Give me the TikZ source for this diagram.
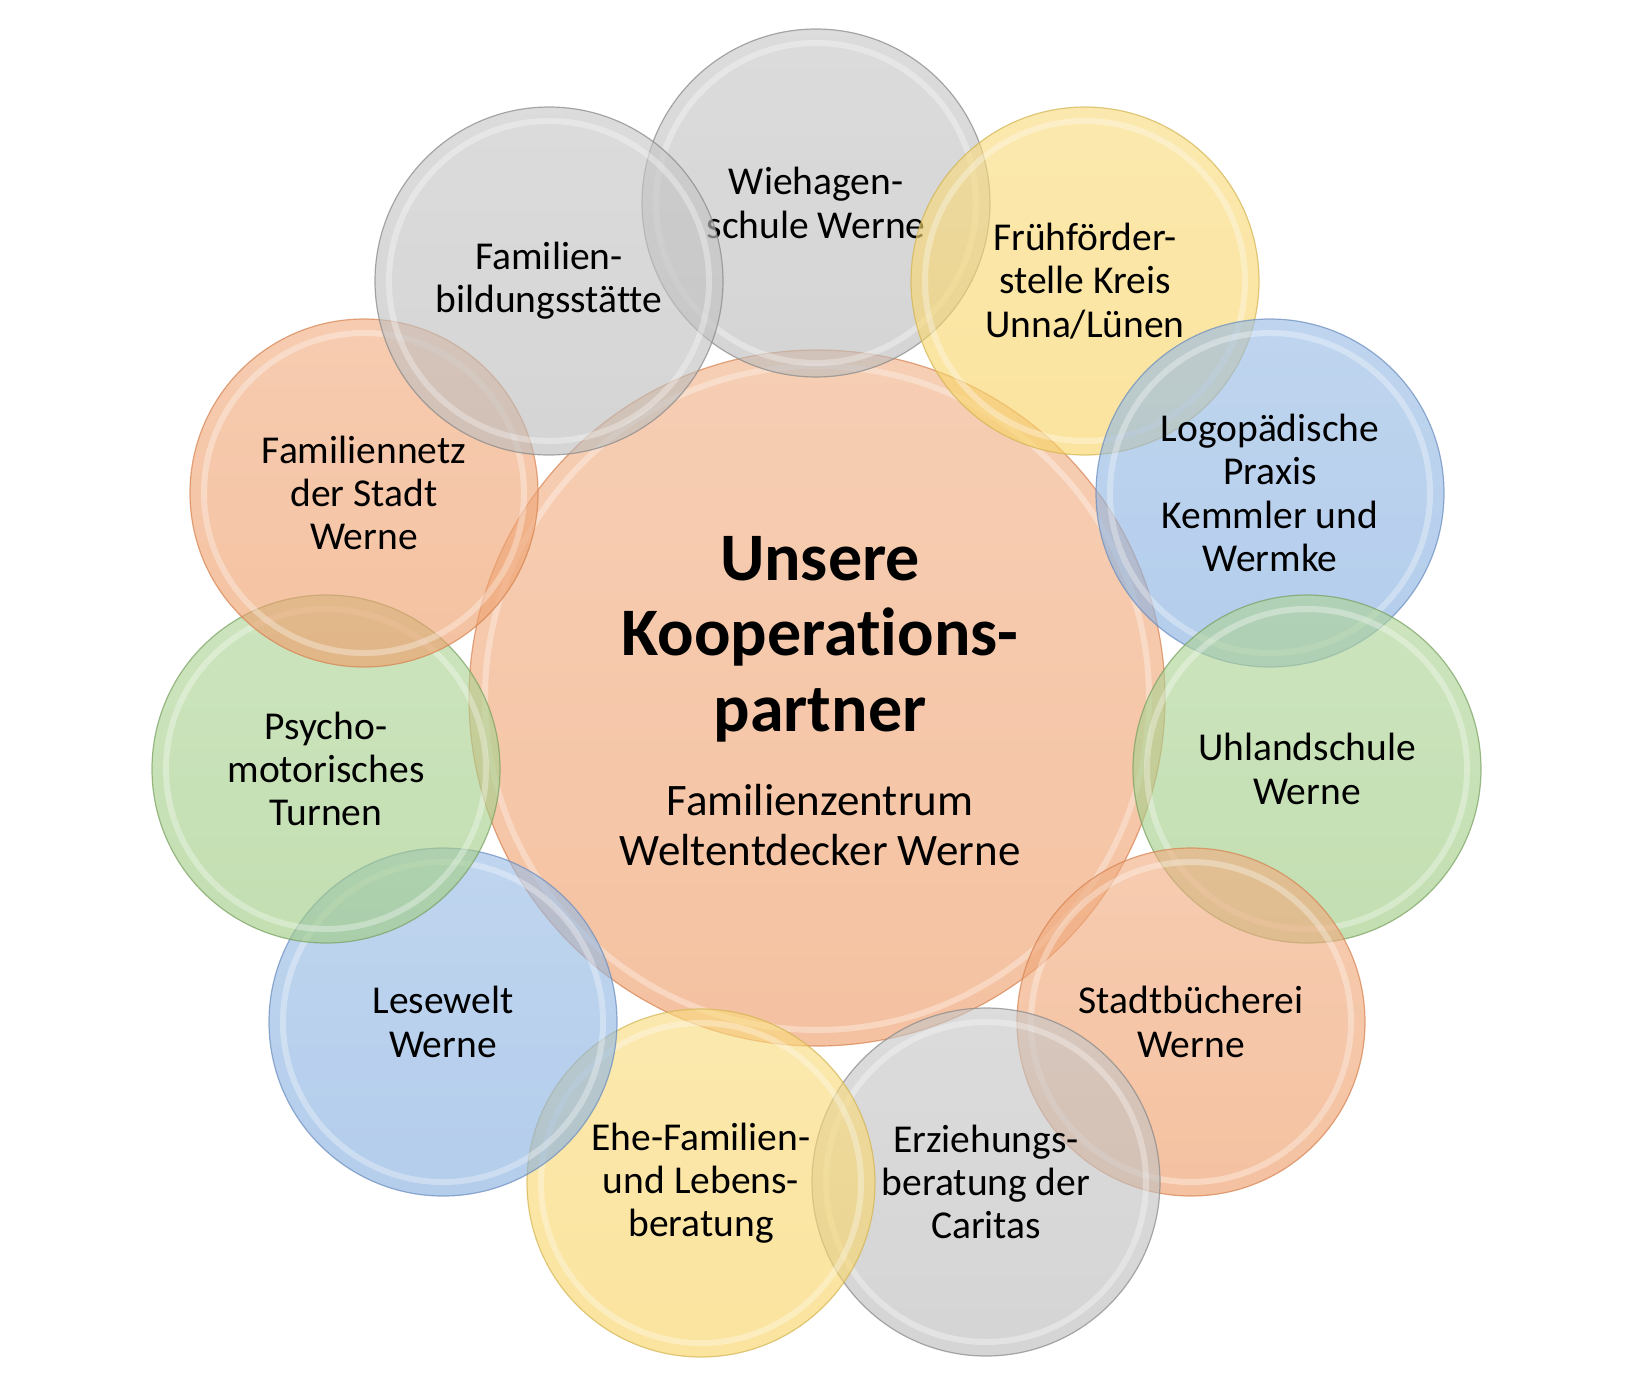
\documentclass[tikz,border=0pt]{standalone}
\usepackage{fontspec}
\setmainfont{Carlito}[Ligatures=NoCommon, Contextuals=NoAlternate]
\definecolor{orB}{RGB}{238,158,106}
\definecolor{orL}{RGB}{214,130,80}
\definecolor{grB}{RGB}{188,188,188}
\definecolor{grL}{RGB}{135,135,135}
\definecolor{yeB}{RGB}{248,212,102}
\definecolor{yeL}{RGB}{210,180,80}
\definecolor{blB}{RGB}{135,176,224}
\definecolor{blL}{RGB}{105,140,190}
\definecolor{gnB}{RGB}{160,204,132}
\definecolor{gnL}{RGB}{120,160,95}
\tikzset{
  bubble/.style={circle, minimum size=174pt, inner sep=0pt, line width=0.6pt,
    fill opacity=0.63, draw opacity=0.7, text opacity=1, align=center,
    font=\fontsize{19.75}{21.65}\selectfont},
  hubcircle/.style={circle, minimum size=348pt, inner sep=0pt, line width=0.6pt,
    fill opacity=0.63, draw opacity=0.7},
  ring/.style={draw=white, line width=3pt, draw opacity=0.32},
  titletext/.style={align=center, inner sep=0pt, font=\fontsize{34}{37.85}\selectfont\bfseries},
  subtext/.style={align=center, inner sep=0pt, font=\fontsize{22.5}{25}\selectfont}
}
\newcommand\mkbubble[5]{%
  \node[bubble, top color=#3!84!white, bottom color=#3, draw=#4] (#1) at (#2) {#5};
  \draw[ring] (#1.center) circle[radius=80pt];}
\begin{document}
\begin{tikzpicture}[x=0.5pt, y=-0.5pt]
\useasboundingbox (0,0) rectangle (1644,1394);
% central circle
\node[hubcircle, top color=orB!80!white, bottom color=orB, draw=orL] (hub) at (817,698) {};
\draw[ring] (hub.center) circle[radius=166pt];
\node[titletext] (title) at (820,639) {Unsere\\Kooperat\kern0pt ions-\\partner};
\node[subtext] (sub) at (820,825) {Familienzentrum\\Weltentdecker Werne};
% satellites, clockwise from top
\mkbubble{wiehagen}{816,203}{grB}{grL}{Wiehagen-\\schule Werne}
\mkbubble{frueh}{1085,281}{yeB}{yeL}{Frühförder-\\stelle Kreis\\Unna/Lünen}
\mkbubble{logo}{1270,493}{blB}{blL}{Logopädische\\Praxis\\Kemmler und\\Wermke}
\mkbubble{uhland}{1307,769}{gnB}{gnL}{Uhlandschule\\Werne}
\mkbubble{stadt}{1191,1022}{orB}{orL}{Stadtbücherei\\Werne}
\mkbubble{erz}{986,1182}{grB}{grL}{Erziehungs-\\beratung der\\Caritas}
\mkbubble{ehe}{701,1183}{yeB}{yeL}{Ehe-Familien-\\und Lebens-\\beratung}
\mkbubble{lese}{443,1022}{blB}{blL}{Lesewelt\\Werne}
\mkbubble{psycho}{326,769}{gnB}{gnL}{Psycho-\\motorisches\\Turnen}
\mkbubble{netz}{364,493}{orB}{orL}{Familiennetz\\der Stadt\\Werne}
\mkbubble{bildung}{549,281}{grB}{grL}{Familien-\\bildungsstätte}
\end{tikzpicture}
\end{document}
